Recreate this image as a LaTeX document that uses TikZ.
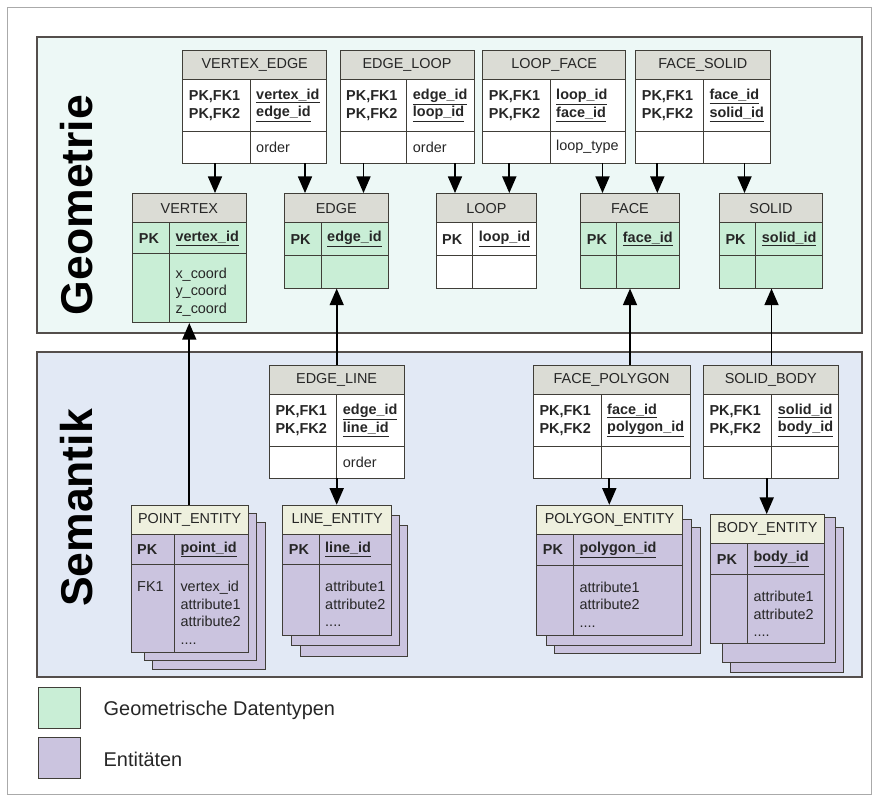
\documentclass[tikz,border=0pt]{standalone}
\usepackage{fontspec}
\setmainfont{Liberation Sans}
\usepackage{xcolor}
\usetikzlibrary{arrows.meta, positioning, fit, calc}

\definecolor{geoback}{RGB}{237,248,246}
\definecolor{semback}{RGB}{226,233,245}
\definecolor{headgray}{RGB}{219,220,213}
\definecolor{enthead}{RGB}{238,240,222}
\definecolor{geogreen}{RGB}{201,238,214}
\definecolor{entpurple}{RGB}{203,196,223}
\definecolor{linecol}{RGB}{64,62,56}
\definecolor{panelline}{RGB}{84,78,76}
\definecolor{txtcol}{RGB}{38,38,38}
\definecolor{framegray}{RGB}{170,170,170}

% table: name, head style, cell style, top left, width, key column, key row, attribute row, title
\newcommand{\ertable}[9]{%
  \node[#2, minimum width={#5*0.03cm}, minimum height={29.5*0.03cm}, anchor=north west] (#1-h) at (#4) {#9};
  \node[#3, minimum width={#6*0.03cm}, minimum height={#7*0.03cm}, anchor=north west] (#1-kl) at (#1-h.south west) {};
  \node[#3, minimum width={(#5-#6)*0.03cm}, minimum height={#7*0.03cm}, anchor=north west] (#1-kr) at (#1-kl.north east) {};
  \node[#3, minimum width={#6*0.03cm}, minimum height={#8*0.03cm}, anchor=north west] (#1-al) at (#1-kl.south west) {};
  \node[#3, minimum width={(#5-#6)*0.03cm}, minimum height={#8*0.03cm}, anchor=north west] (#1-ar) at (#1-al.north east) {};
  \node[fit=(#1-h)(#1-ar), inner sep=0pt] (#1) {};
}
% key row texts
\newcommand{\keyrow}[3]{%
  \node[keytxt] at ($(#1-kl.west)+(6,0)$) {#2};
  \node[keytxt] at ($(#1-kr.west)+(6,0)$) {#3};
}

\begin{document}
\begin{tikzpicture}[x=0.03cm, y=-0.03cm,
    cell/.style={rectangle, draw=linecol, line width=0.8pt, outer sep=0pt, inner sep=0pt},
    headg/.style={cell, fill=headgray, font=\fontsize{12.3}{15}\selectfont, text=txtcol},
    heade/.style={cell, fill=enthead, font=\fontsize{12.3}{15}\selectfont, text=txtcol},
    plaincell/.style={cell, fill=white},
    geocell/.style={cell, fill=geogreen},
    entcell/.style={cell, fill=entpurple},
    keytxt/.style={font=\fontsize{12.3}{15}\selectfont\bfseries, align=left, inner sep=0pt, anchor=west, text=txtcol},
    atttxt/.style={font=\fontsize{12.3}{15}\selectfont, align=left, inner sep=0pt, anchor=north west, text=txtcol},
    fk/.style={-{Triangle[length=0.5cm, width=0.42cm]}, line width=1.5pt, draw=black},
    panel/.style={draw=panelline, line width=1pt},
    sidelabel/.style={rotate=90, font=\fontsize{38}{40}\selectfont\bfseries, text=black},
    legbox/.style={draw=linecol, line width=0.8pt, minimum width=1.26cm, minimum height=1.23cm, inner sep=0pt},
    legtxt/.style={font=\fontsize{17}{20}\selectfont, text=txtcol, inner sep=0pt}]

    \useasboundingbox (0,0) rectangle (878,801);
    \draw[framegray, line width=0.6pt] (7,7) rectangle (871,794);

    % panels
    \draw[panel, fill=geoback] (37,37) rectangle (862,333);
    \draw[panel, fill=semback] (37,352) rectangle (862,677);
    \node[sidelabel] (geolabel) at (77,205) {Geometrie};
    \node[sidelabel] (semlabel) at (77,508) {Semantik};

    % stacked entity sheets
    \draw[entcell] (152.3,522.3) rectangle (265,669);
    \draw[entcell] (144,513.3) rectangle (256.7,660);
    \draw[entcell] (300,525.7) rectangle (407.3,656);
    \draw[entcell] (291.7,515.7) rectangle (399.3,645);
    \draw[entcell] (554,527.7) rectangle (700,653.3);
    \draw[entcell] (546,519) rectangle (691.7,645);
    \draw[entcell] (730.7,527) rectangle (843.3,672);
    \draw[entcell] (722.7,517.7) rectangle (835,662);

    % geometry tables
    \ertable{vedge}{headg}{plaincell}{182.7,50}{144}{67.3}{52}{31.5}{VERTEX\_EDGE}
    \ertable{eloop}{headg}{plaincell}{340,50}{134}{66.7}{52}{31.5}{EDGE\_LOOP}
    \ertable{lface}{headg}{plaincell}{482.7,50}{143}{67.3}{52}{31.5}{LOOP\_FACE}
    \ertable{fsolid}{headg}{plaincell}{635.7,50}{134.3}{67.6}{52}{31.5}{FACE\_SOLID}
    \ertable{vertex}{headg}{geocell}{132.7,193.3}{113.3}{36.6}{31}{69}{VERTEX}
    \ertable{edge}{headg}{geocell}{284.3,193.3}{104}{36.7}{32.5}{33}{EDGE}
    \ertable{loop}{headg}{plaincell}{436,193.3}{100.7}{36.7}{32.5}{33}{LOOP}
    \ertable{face}{headg}{geocell}{580.7,193.3}{98.6}{36}{32.5}{33}{FACE}
    \ertable{solid}{headg}{geocell}{719.3,193.3}{103.4}{36.4}{32.5}{33}{SOLID}

    % semantic tables
    \ertable{eline}{headg}{plaincell}{269.3,365}{134.7}{67.4}{52}{31.5}{EDGE\_LINE}
    \ertable{fpoly}{headg}{plaincell}{533.3,365}{156.7}{67.7}{52}{31.5}{FACE\_POLYGON}
    \ertable{sbody}{headg}{plaincell}{703.3,365}{135}{68.4}{52}{31.5}{SOLID\_BODY}
    \ertable{pointent}{heade}{entcell}{131,505}{117.3}{43.3}{30}{88}{POINT\_ENTITY}
    \ertable{lineent}{heade}{entcell}{282.7,505}{109}{36.3}{30}{70.5}{LINE\_ENTITY}
    \ertable{polyent}{heade}{entcell}{536.7,505}{145.6}{36.6}{30.5}{70}{POLYGON\_ENTITY}
    \ertable{bodyent}{heade}{entcell}{710.7,514.3}{113.3}{36.6}{30.5}{69}{BODY\_ENTITY}

    % keys
    \keyrow{vedge}{PK,FK1\\PK,FK2}{\underline{vertex\_id}\\\underline{edge\_id}}
    \keyrow{eloop}{PK,FK1\\PK,FK2}{\underline{edge\_id}\\\underline{loop\_id}}
    \keyrow{lface}{PK,FK1\\PK,FK2}{\underline{loop\_id}\\\underline{face\_id}}
    \keyrow{fsolid}{PK,FK1\\PK,FK2}{\underline{face\_id}\\\underline{solid\_id}}
    \keyrow{vertex}{PK}{\underline{vertex\_id}}
    \keyrow{edge}{PK}{\underline{edge\_id}}
    \keyrow{loop}{PK}{\underline{loop\_id}}
    \keyrow{face}{PK}{\underline{face\_id}}
    \keyrow{solid}{PK}{\underline{solid\_id}}
    \keyrow{eline}{PK,FK1\\PK,FK2}{\underline{edge\_id}\\\underline{line\_id}}
    \keyrow{fpoly}{PK,FK1\\PK,FK2}{\underline{face\_id}\\\underline{polygon\_id}}
    \keyrow{sbody}{PK,FK1\\PK,FK2}{\underline{solid\_id}\\\underline{body\_id}}
    \keyrow{pointent}{PK}{\underline{point\_id}}
    \keyrow{lineent}{PK}{\underline{line\_id}}
    \keyrow{polyent}{PK}{\underline{polygon\_id}}
    \keyrow{bodyent}{PK}{\underline{body\_id}}

    % attributes
    \node[atttxt, anchor=west] at ($(vedge-ar.west)+(6,0)$) {order};
    \node[atttxt, anchor=west] at ($(eloop-ar.west)+(6,0)$) {order};
    \node[atttxt, anchor=west] at ($(lface-ar.west)+(6,0)$) {loop\_type};
    \node[atttxt, anchor=west] at ($(eline-ar.west)+(6,0)$) {order};
    \node[atttxt] at ($(vertex-ar.north west)+(6,13.7)$) {x\_coord\\y\_coord\\z\_coord};
    \node[atttxt] at ($(pointent-al.north west)+(6,16.5)$) {FK1};
    \node[atttxt] at ($(pointent-ar.north west)+(6,16.5)$) {vertex\_id\\attribute1\\attribute2\\....};
    \node[atttxt] at ($(lineent-ar.north west)+(6,16.5)$) {attribute1\\attribute2\\....};
    \node[atttxt] at ($(polyent-ar.north west)+(6,16.5)$) {attribute1\\attribute2\\....};
    \node[atttxt] at ($(bodyent-ar.north west)+(6,16.5)$) {attribute1\\attribute2\\....};

    % foreign keys
    \draw[fk] (215,0 |- vedge.south) -- (215,0 |- vertex.north);
    \draw[fk] (305,0 |- vedge.south) -- (305,0 |- edge.north);
    \draw[fk] (363.5,0 |- eloop.south) -- (363.5,0 |- edge.north);
    \draw[fk] (455,0 |- eloop.south) -- (455,0 |- loop.north);
    \draw[fk] (509.3,0 |- lface.south) -- (509.3,0 |- loop.north);
    \draw[fk] (602.5,0 |- lface.south) -- (602.5,0 |- face.north);
    \draw[fk] (657.3,0 |- fsolid.south) -- (657.3,0 |- face.north);
    \draw[fk] (744.5,0 |- fsolid.south) -- (744.5,0 |- solid.north);
    \draw[fk] (189.3,0 |- pointent.north) -- (189.3,0 |- vertex.south);
    \draw[fk] (336.7,0 |- eline.north) -- (336.7,0 |- edge.south);
    \draw[fk] (336.7,0 |- eline.south) -- (336.7,0 |- lineent.north);
    \draw[fk] (630,0 |- fpoly.north) -- (630,0 |- face.south);
    \draw[fk] (609.3,0 |- fpoly.south) -- (609.3,0 |- polyent.north);
    \draw[fk] (771.5,0 |- sbody.north) -- (771.5,0 |- solid.south);
    \draw[fk] (766.7,0 |- sbody.south) -- (766.7,0 |- bodyent.north);

    % legend
    \node[legbox, fill=geogreen] (leggeo) at (59,707.5) {};
    \node[legtxt, right=0.69cm of leggeo, yshift=-0.09cm] (leggeotxt) {Geometrische Datentypen};
    \node[legbox, fill=entpurple] (legent) at (59,757.5) {};
    \node[legtxt, right=0.69cm of legent, yshift=-0.05cm] (legenttxt) {Entitäten};
\end{tikzpicture}
\end{document}
